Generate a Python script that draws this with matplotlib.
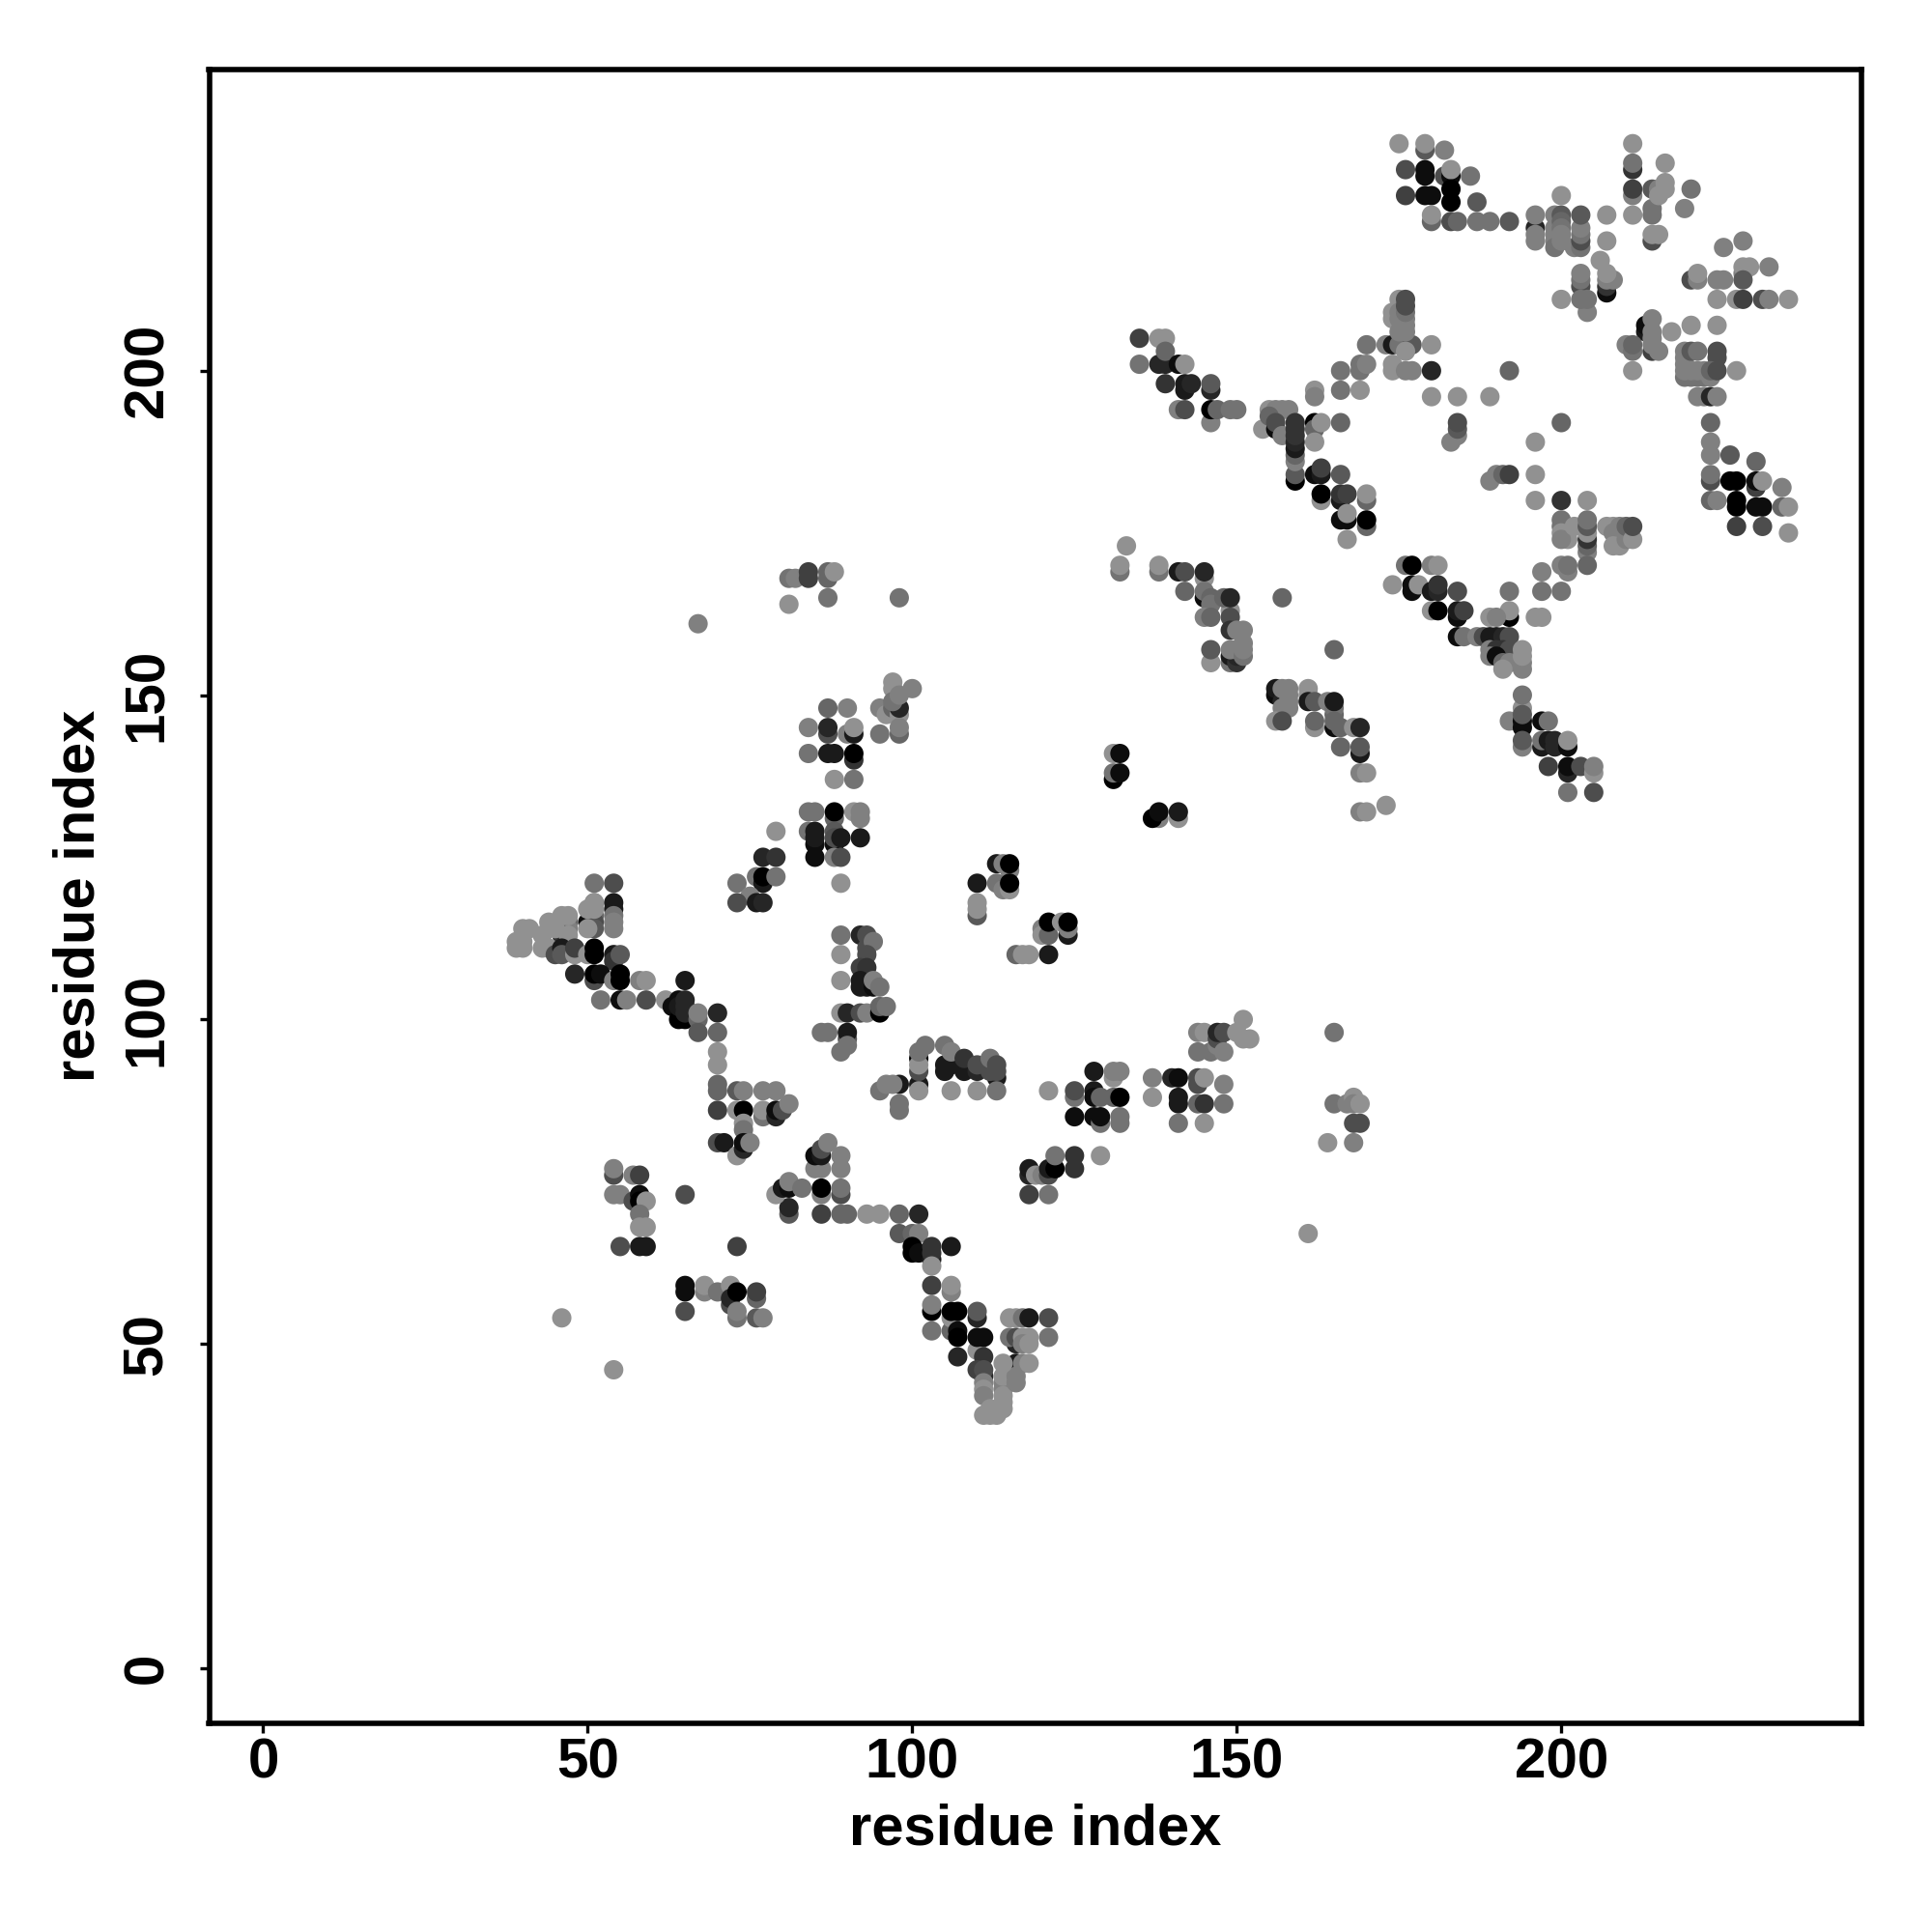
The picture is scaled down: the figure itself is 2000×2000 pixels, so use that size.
import matplotlib
matplotlib.use("Agg")
import matplotlib.pyplot as plt

plt.rcParams["font.family"] = ["Liberation Sans", "DejaVu Sans"]

# contacts: (residue x, residue y, grey level)
helix_a = [
    (51,121,.45),(54,121,.3),(51,118,.45),(54,118,.1),(54,117,.1),(54,116,.45),(54,115,.5),(54,114,.5),
    (51,116,.4),(50,115,.05),(51,115,.3),(51,114,.35),(50,114,.57),(50,117,.57),(51,117,.57),(51,118,.57),
    (46,115,.15),(47,115,.4),(47,114,.5),(46,113,.2),(47,116,.57),(46,116,.57),(44,115,.57),(45,114,.57),(47,113,.57),
    (43,113,.57),(40,114,.57),(41,114,.57),(39,112,.57),(40,112,.57),(39,111,.57),(40,111,.57),
    (43,111,.57),(44,111,.57),(45,110,.3),(46,111,.1),(46,110,.35),(48,110,.57),(48,111,.25),(50,110,.57),(51,110,.0),(51,111,.0),
    (54,110,.1),(54,109,.2),(55,110,.35),
    (48,107,.15),(51,106,.3),(51,107,.0),(52,107,.05),(54,106,.5),(55,107,.0),(55,106,.0),(58,106,.5),(59,106,.57),
    (52,103,.45),(55,103,.05),(56,103,.5),(59,103,.3),(62,103,.57),
]
helix_b = [
    (64,103,.05),(63,102,.05),(64,100,.0),(65,100,.0),(64,102,.1),(65,103,.15),(65,102,.15),(65,101,.15),(65,106,.1),
    (67,100,.4),(67,98,.35),(67,101,.5),(70,101,.15),(70,98,.4),(70,95,.57),(70,93,.57),(70,90,.4),(70,89,.4),(70,86,.25),
    (70,81,.3),(71,81,.1),(73,89,.35),(74,89,.5),(77,89,.5),(79,89,.5),
    (73,86,.57),(74,86,.0),(77,85,.45),(77,86,.57),(79,85,.15),(79,86,.05),(80,86,.3),(81,87,.5),
    (74,84,.57),(74,83,.45),(73,79,.57),(74,80,.15),(74,81,.05),(75,81,.5),
]
low_left = [
    (54,76,.3),(54,77,.5),(57,76,.5),(58,76,.25),(54,73,.5),(55,73,.5),(57,72,.3),(58,73,.05),(58,72,.0),(59,72,.57),
    (58,70,.45),(58,68,.57),(59,68,.57),(55,65,.3),(58,65,.1),(59,65,.1),(73,65,.25),(65,73,.3),
    (65,59,.05),(65,58,.05),(65,55,.3),(68,58,.5),(68,59,.57),(70,58,.45),(72,59,.57),(72,56,.3),(72,57,.15),(73,58,.0),
    (73,54,.45),(73,55,.5),(76,54,.35),(77,54,.5),(76,57,.4),(76,58,.25),(46,54,.57),(54,46,.57),
]
cross_mid = [
    (81,70,.35),(81,71,.15),(79,73,.57),(80,74,.1),(81,74,.05),(81,75,.5),(83,74,.45),(86,73,.5),(86,74,.0),
    (89,73,.3),(89,74,.45),(85,77,.5),(86,77,.5),(89,77,.5),(85,79,.05),(86,79,.1),(86,80,.3),(87,81,.5),(89,79,.5),
    (86,70,.25),(89,70,.4),(90,70,.4),(93,70,.57),(95,70,.57),(98,70,.4),(101,70,.15),
    (98,67,.35),(100,67,.4),(101,67,.5),(100,65,.0),(100,64,.0),(101,64,.05),(103,63,.1),(103,65,.2),(103,64,.2),(106,65,.1),(103,62,.57),
]
bottom_tail = [
    (103,59,.25),(106,58,.5),(106,59,.57),(103,55,.0),(103,56,.5),(103,52,.45),(106,52,.4),(106,54,.57),(106,55,.0),(107,55,.0),
    (110,54,.15),(110,55,.35),(107,52,.05),(107,51,.0),(110,49,.57),(110,51,.05),(111,51,.05),(107,48,.15),(111,48,.2),
    (115,54,.57),(116,54,.57),(117,54,.45),(118,54,.1),(121,54,.3),(116,50,.15),(115,51,.45),(116,51,.3),(117,51,.57),(118,51,.57),(121,51,.45),
    (117,50,.5),(118,50,.57),(111,45,.15),(110,46,.25),(111,46,.3),(111,44,.5),(111,43,.57),(111,42,.5),
    (114,44,.5),(114,43,.5),(114,45,.57),(114,42,.57),(116,47,.1),(116,44,.5),(116,45,.5),(114,47,.57),(117,47,.5),(118,47,.57),
    (114,41,.57),(114,40,.57),(112,40,.57),(111,39,.57),(112,39,.57),(113,39,.57),
]
upper_left = [
    (67,161,.5),(81,168,.45),(82,168,.5),(84,169,.25),(84,168,.25),(87,168,.4),(87,169,.4),(88,169,.57),
    (81,164,.57),(87,165,.45),(98,165,.45),(87,148,.4),(90,148,.5),(84,145,.5),(87,144,.3),(87,145,.15),(90,144,.5),
    (91,144,.1),(91,145,.57),(84,141,.45),(87,141,.1),(88,141,.1),(91,140,.2),(91,141,.0),(88,137,.57),(91,137,.45),
    (95,148,.5),(96,147,.57),(97,148,.4),(97,152,.57),(97,151,.57),(100,151,.5),(98,147,.57),(98,148,.15),(97,149,.45),(98,150,.5),
    (95,144,.45),(98,144,.4),(98,145,.5),
    (84,132,.45),(85,132,.45),(88,131,.4),(88,132,.0),(91,132,.57),(92,131,.5),(92,132,.5),
    (79,129,.57),(84,129,.45),(85,127,.05),(85,128,.1),(85,129,.1),(88,127,.05),(88,129,.35),(88,128,.3),(89,128,.1),(92,128,.1),
    (85,125,.05),(88,125,.5),(89,125,.3),(89,121,.57),(77,125,.15),(79,125,.2),(76,122,.45),(77,121,.1),(77,122,.0),(79,122,.45),
    (73,121,.45),(75,119,.5),(73,118,.3),(76,118,.1),(77,118,.15),
]
center_group = [
    (113,124,.1),(114,124,.5),(115,123,.5),(115,124,.0),(110,121,.1),(113,121,.45),(114,120,.5),(115,120,.57),(115,121,.0),
    (110,116,.35),(110,117,.57),(110,118,.57),(120,114,.5),(120,113,.57),(121,113,.4),(121,115,.0),(123,115,.57),
    (124,113,.1),(124,114,.5),(124,115,.0),(116,110,.4),(117,110,.57),(118,110,.57),(121,110,.1),
    (89,113,.45),(89,110,.57),(89,106,.57),(92,113,.15),(93,113,.3),(93,111,.3),(94,112,.45),(93,110,.3),(92,108,.25),(93,108,.2),
    (92,106,.1),(92,105,.1),(93,105,.1),(94,105,.05),(94,106,.5),(95,105,.45),
    (89,101,.57),(90,101,.15),(92,101,.3),(93,101,.5),(95,101,.0),(95,102,.4),(96,102,.45),
    (86,98,.45),(87,98,.45),(90,97,.35),(90,98,.1),(89,95,.45),(90,96,.45),
]
mid_strand = [
    (101,90,.1),(101,89,.57),(98,90,.1),(98,87,.45),(98,86,.45),(95,89,.45),(96,90,.5),(97,90,.5),
    (101,92,.3),(101,94,.0),(101,93,.57),(101,95,.45),(102,96,.45),
    (105,92,.1),(105,93,.1),(106,93,.1),(105,96,.45),(106,95,.5),(108,92,.1),(108,93,.1),(108,94,.2),(110,92,.15),(110,93,.3),
    (113,91,.1),(112,92,.3),(113,92,.3),(112,94,.45),(113,93,.3),(106,89,.57),(110,89,.57),(113,89,.45),
    (121,89,.57),(125,88,.45),(125,89,.3),(125,85,.05),(128,89,.1),(128,88,.05),(128,85,.05),(128,92,.1),(129,84,.45),(129,85,.05),
    (131,91,.57),(131,92,.5),(132,92,.5),(129,88,.4),(131,88,.4),(132,88,.0),(132,84,.45),(132,85,.45),
    (137,91,.5),(137,88,.57),(140,91,.15),(141,91,.05),(141,88,.1),(141,87,.1),(141,84,.45),
    (144,90,.3),(144,91,.3),(145,91,.57),(144,87,.4),(145,87,.2),(145,84,.57),(148,90,.5),(148,87,.45),
    (144,98,.5),(145,98,.57),(146,95,.45),(147,96,.5),(147,97,.3),(147,98,.15),(148,98,.3),(150,98,.57),(151,100,.57),
    (151,97,.57),(152,97,.57),(144,95,.45),(148,95,.5),
    (165,98,.45),(165,87,.45),(167,87,.5),(168,88,.57),(168,87,.5),(168,84,.3),(169,84,.3),(169,87,.57),(168,81,.5),(164,81,.57),(161,67,.57),
    (118,73,.25),(121,73,.45),(118,76,.15),(118,77,.1),(119,76,.57),(120,76,.5),(121,76,.3),(121,77,.1),(122,77,.0),(122,79,.45),
    (125,79,.2),(125,77,.2),(129,79,.57),
]
top_right = [
    (175,235,.57),(179,234,.35),(179,235,.57),(182,234,.5),(176,231,.3),(179,231,.05),(179,230,.05),(182,230,.3),(183,230,.05),(183,231,.57),(186,230,.45),
    (176,227,.25),(179,227,.05),(180,227,.05),(183,228,.0),(183,226,.0),(187,226,.35),
    (180,223,.4),(180,224,.57),(183,223,.3),(184,223,.4),(187,223,.45),(189,223,.45),(192,223,.35),
    (196,222,.15),(196,224,.5),(196,221,.5),(196,220,.5),(200,227,.57),(199,224,.5),(199,222,.5),(199,221,.5),(199,220,.5),(199,219,.45),
    (200,224,.35),(200,223,.4),(200,222,.45),(200,221,.5),(200,220,.5),(202,219,.5),(203,219,.45),(203,220,.3),(203,221,.45),(203,222,.5),(203,224,.35),
    (207,224,.57),(207,220,.57),(206,217,.57),(203,213,.3),(203,214,.45),(203,215,.5),(207,212,.05),(207,213,.2),(207,214,.5),(208,214,.5),(207,215,.57),
    (200,211,.57),(204,209,.5),(203,211,.45),(204,211,.45),
    (211,235,.57),(211,231,.2),(211,232,.45),(211,227,.5),(211,228,.25),(211,224,.57),(216,232,.57),(214,228,.35),(214,224,.45),(214,225,.45),
    (215,228,.5),(215,227,.57),(216,229,.57),(216,228,.57),(220,228,.45),(219,225,.5),(214,220,.3),(214,221,.57),(215,221,.57),
    (228,220,.5),(225,219,.5),(228,215,.5),(228,216,.57),(229,216,.57),(232,216,.5),(220,214,.3),(221,214,.5),(221,215,.57),
    (224,214,.5),(225,214,.5),(228,214,.35),(224,211,.57),(227,211,.57),(228,211,.25),(231,211,.3),(232,211,.5),(235,211,.57),
]
right_side = [
    (213,206,.1),(213,207,.05),(214,208,.5),(214,206,.5),(214,205,.5),(217,206,.57),(220,207,.57),(224,207,.57),
    (210,204,.5),(211,203,.45),(211,204,.4),(211,200,.57),(214,203,.25),(214,204,.5),(215,203,.5),
    (219,201,.5),(219,202,.5),(219,203,.5),(220,203,.35),(221,203,.45),(224,202,.3),(224,203,.3),
    (219,199,.45),(220,199,.45),(221,199,.45),(222,199,.45),(223,199,.5),(219,200,.5),(220,200,.5),(221,200,.5),(222,200,.5),(223,200,.4),(224,200,.3),(227,200,.57),
    (221,196,.5),(222,196,.5),(223,196,.15),(224,196,.5),(223,192,.4),(223,189,.5),(223,187,.5),(223,183,.3),(223,184,.45),(223,180,.4),(224,180,.5),
    (226,187,.35),(230,186,.4),(226,183,.0),(227,183,.0),(230,182,.25),(230,183,.05),(231,183,.57),(234,182,.5),
    (227,180,.0),(227,179,.0),(230,179,.05),(231,179,.05),(234,179,.4),(235,179,.57),(227,176,.25),(231,176,.3),(235,175,.57),
]
diag_upper = [
    (135,205,.25),(138,205,.57),(139,205,.57),(135,201,.45),(138,201,.15),(139,201,.15),(139,203,.4),(141,201,.05),(142,201,.57),
    (139,198,.2),(142,197,.1),(142,198,.1),(143,198,.15),(146,197,.15),(146,198,.35),
    (141,194,.5),(142,194,.3),(146,192,.5),(146,194,.0),(147,194,.4),(149,194,.45),(150,194,.45),
    (154,191,.57),(155,194,.57),(156,194,.5),(157,194,.5),(158,194,.5),(155,193,.4),(156,191,.05),(156,192,.3),(157,190,.5),
    (159,183,.0),(159,184,.35),(159,186,.5),(159,187,.4),(159,188,.1),(159,189,.15),(159,190,.2),(159,191,.2),(159,192,.2),
    (162,192,.0),(162,191,.4),(163,192,.57),(162,189,.57),(166,192,.4),(162,197,.57),(162,196,.5),(166,200,.45),(166,197,.45),(169,197,.57),
    (169,200,.45),(169,201,.45),(170,201,.5),(174,200,.57),(174,201,.57),(176,200,.5),(177,200,.5),(180,200,.15),(192,200,.4),
    (170,204,.45),(173,204,.5),(174,204,.1),(175,204,.45),(176,204,.45),(177,204,.35),(176,203,.57),(180,204,.57),
    (174,208,.57),(174,209,.57),(175,211,.57),(175,208,.5),(175,209,.5),(176,207,.5),(176,208,.5),(175,206,.5),(176,206,.5),(176,209,.45),(176,210,.3),(176,211,.3),
    (180,196,.57),(184,196,.57),(189,196,.57),(183,189,.5),(184,190,.5),(184,191,.35),(184,192,.3),
]
diag_lower = [
    (162,184,.05),(163,184,.1),(163,185,.25),(166,184,.35),(163,180,.57),(163,181,.0),(166,180,.1),(166,181,.2),(167,181,.25),
    (170,180,.4),(170,181,.57),(166,177,.05),(167,177,.05),(167,178,.57),(170,176,.4),(170,177,.0),(167,174,.57),
    (189,183,.5),(190,184,.5),(191,184,.4),(192,184,.25),(196,189,.57),(196,184,.57),(196,180,.57),(200,192,.4),(200,180,.2),(204,180,.57),
    (200,177,.45),(200,176,.45),(200,175,.57),(201,174,.57),(200,174,.5),(202,176,.57),(204,172,.5),(204,173,.4),(204,174,.2),(204,175,.57),(204,176,.35),(204,177,.45),
    (207,176,.57),(208,176,.57),(208,175,.5),(209,174,.5),(209,173,.57),(208,173,.57),(209,176,.5),(210,174,.5),(210,176,.4),(211,174,.57),(211,176,.3),
    (200,170,.5),(201,169,.5),(201,170,.45),(197,169,.5),(204,170,.4),(197,166,.45),(200,166,.45),(192,166,.45),(192,162,.0),(192,163,.57),
    (196,162,.57),(197,162,.57),(189,162,.57),(190,162,.5),
    (184,159,.05),(185,159,.45),(187,159,.5),(188,159,.3),(189,159,.1),(190,159,.1),(191,159,.15),(192,159,.3),
    (189,157,.5),(190,157,.2),(191,157,.2),(192,157,.3),(189,156,.5),(190,156,.05),(191,155,.4),(192,155,.5),(191,154,.57),(194,154,.5),(194,155,.5),(194,156,.57),(194,157,.57),
    (194,148,.57),(194,150,.45),(192,146,.5),(193,146,.5),(194,145,.05),(194,146,.05),(194,147,.35),(197,146,.05),(198,146,.45),
    (194,142,.5),(194,143,.35),(197,142,.1),(197,143,.45),(198,143,.1),(199,142,.15),(199,143,.15),(201,142,.05),(201,143,.57),
    (198,139,.25),(201,138,.15),(201,139,.05),(203,139,.3),(205,138,.57),(205,139,.5),(201,135,.45),(205,135,.3),
    (176,170,.45),(177,170,.0),(180,170,.5),(181,170,.57),(174,167,.57),(177,166,.05),(177,167,.05),(178,167,.57),(180,166,.1),(181,166,.15),(181,167,.2),(184,166,.3),
    (180,163,.57),(181,163,.0),(184,162,.05),(184,163,.1),(185,163,.25),
]
mid_right = [
    (133,173,.57),(132,169,.45),(132,170,.57),(138,169,.45),(138,170,.57),(141,169,.1),(142,169,.3),(145,168,.57),(145,169,.15),
    (142,166,.4),(145,165,.05),(145,166,.45),(146,165,.4),(146,164,.45),(149,163,.57),(148,165,.4),(149,165,.15),
    (145,162,.5),(146,162,.4),(149,162,.3),(149,160,.2),(150,160,.5),(151,160,.5),
    (146,155,.57),(146,157,.35),(149,155,.45),(149,156,.1),(150,155,.2),(150,156,.15),(149,157,.5),(150,157,.5),(151,156,.45),(151,157,.5),(151,158,.5),
    (157,165,.4),(165,157,.4),(156,150,.05),(156,151,.1),(157,149,.15),(157,148,.5),(157,151,.5),(158,148,.5),(158,149,.5),(158,150,.5),(158,151,.5),
    (161,150,.57),(161,151,.57),(161,149,.1),(162,149,.35),(164,149,.5),(165,147,.4),(165,148,.45),(165,149,.1),
    (156,146,.57),(157,146,.3),(162,145,.57),(162,146,.4),(165,145,.05),(165,146,.4),(166,145,.4),(168,145,.57),(169,145,.15),
    (166,142,.4),(169,141,.1),(169,142,.35),(169,138,.5),(170,138,.57),(169,132,.5),(170,132,.57),(173,133,.57),
    (131,141,.57),(132,141,.05),(131,137,.0),(131,138,.45),(132,138,.05),(138,131,.5),(137,131,.0),(138,132,.05),(141,131,.57),(141,132,.1),
]

clusters = [helix_a, helix_b, low_left, cross_mid, bottom_tail, upper_left, center_group,
            mid_strand, top_right, right_side, diag_upper, diag_lower, mid_right]

tick_values = [0, 50, 100, 150, 200]

fig = plt.figure(figsize=(10, 10), dpi=200)
ax = fig.add_axes([216.5 / 2000, 1 - 1784 / 2000, (1927 - 216.5) / 2000, (1784 - 71.5) / 2000])

for cluster in clusters:
    xs = [c[0] for c in cluster]
    ys = [c[1] for c in cluster]
    greys = [str(c[2]) for c in cluster]
    ax.scatter(xs, ys, s=52, c=greys, linewidths=0, zorder=3)

ax.set_xlim(-8.33, 246.25)
ax.set_ylim(-8.5, 246.5)
ax.set_xticks(tick_values)
ax.set_yticks(tick_values)
ax.tick_params(length=3.6, width=1.2, labelsize=21)
ax.tick_params(axis="x", pad=1.5)
ax.tick_params(axis="y", pad=9.5)
for lab in ax.get_xticklabels():
    lab.set_fontweight("bold")
for lab in ax.get_yticklabels():
    lab.set_fontweight("bold")
    lab.set_rotation(90)
    lab.set_va("center")
for sp in ax.spines.values():
    sp.set_linewidth(2)

ax.set_xlabel("residue index", fontsize=21.5, fontweight="bold", labelpad=5)
ax.set_ylabel("residue index", fontsize=21.5, fontweight="bold", labelpad=6)

fig.savefig("out.png", dpi=200)
